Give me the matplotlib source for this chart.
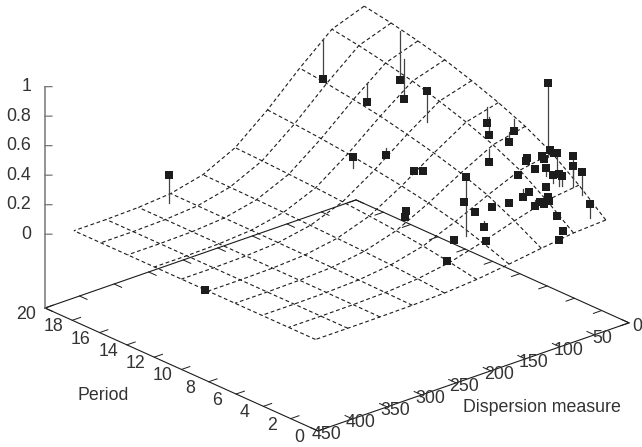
#!/usr/bin/env python3
import numpy as np
import matplotlib
matplotlib.use("Agg")
import matplotlib.pyplot as plt
from mpl_toolkits.mplot3d import proj3d

plt.rcParams['font.family'] = ['Liberation Sans', 'DejaVu Sans']

#### data ####

# fitted surface: rows are period_grid, columns are dm_grid
period_grid = [1.7, 3.67, 5.63, 7.6, 9.57, 11.53, 13.5, 15.47, 17.43, 19.4]
dm_grid = [0, 46.7, 93.3, 140, 186.7, 233.3, 280, 326.7, 373.3, 420]
surface = [
    [.126, .114, .086, .055, .027, .011, .004, .001, 0, 0],
    [.280, .253, .190, .121, .061, .025, .008, .002, 0, 0],
    [.415, .376, .282, .180, .090, .038, .012, .003, 0, 0],
    [.515, .466, .350, .223, .112, .047, .015, .004, 0, 0],
    [.594, .538, .404, .257, .129, .054, .017, .004, 0, 0],
    [.661, .598, .449, .286, .144, .060, .019, .005, 0, 0],
    [.720, .652, .490, .312, .157, .066, .021, .005, 0, 0],
    [.766, .693, .521, .332, .167, .070, .022, .005, 0, 0],
    [.806, .729, .548, .349, .176, .073, .023, .006, 0, 0],
    [.838, .758, .570, .363, .183, .076, .024, .006, 0, 0],
]

# measured points and the surface value under each one
period_pts = [18.6, 9.8, 19.4, 15.5, 16.6, 15.0, 11.2, 12.6, 11.9, 9.7, 9.3, 8.2, 7.9, 4.5,
              6.2, 5.3, 5.0, 4.8, 3.9, 4.8, 4.6, 3.8, 9.7, 9.1, 8.3, 7.8, 7.6, 5.6,
              5.8, 5.8, 5.6, 6.1, 5.9, 5.5, 4.8, 4.1, 3.7, 3.2, 5.3, 4.8, 5.5, 4.3,
              4.1, 4.0, 4.3, 4.8, 4.5, 3.8, 4.0, 3.9, 3.6, 3.6, 2.8, 2.0, 1.7, 2.1]
dm_pts = [298, 420, 60, 73, 3, 30, 71, 150, 117, 120, 114, 161, 168, 147,
          116, 118, 100, 79, 187, 159, 119, 132, 14, 23, 3, 20, 53, 6,
          0, 11, 13, 27, 32, 0, 10, 0, 8, 5, 31, 26, 52, 25,
          21, 18, 35, 58, 56, 42, 57, 52, 52, 45, 49, 56, 68, 15]
z_obs = [0.21, 0.0, 0.44, 0.47, 0.46, 0.44, 0.72, 0.34, 0.33, 0.32, 0.33, 0.18, 0.16, 0.54,
         0.25, 0.22, 0.24, 0.24, 0.06, 0.12, 0.15, 0.11, 0.47, 0.43, 0.46, 0.43, 0.36, 0.9,
         0.43, 0.41, 0.4, 0.41, 0.4, 0.42, 0.47, 0.46, 0.42, 0.4, 0.37, 0.39, 0.36, 0.36,
         0.37, 0.36, 0.3, 0.25, 0.29, 0.26, 0.22, 0.24, 0.24, 0.25, 0.19, 0.13, 0.1, 0.24]
z_fit = [0.02, 0.0, 0.71, 0.6, 0.79, 0.71, 0.51, 0.27, 0.38, 0.32, 0.33, 0.18, 0.16, 0.14,
         0.25, 0.22, 0.24, 0.26, 0.06, 0.12, 0.19, 0.14, 0.58, 0.55, 0.54, 0.5, 0.45, 0.4,
         0.43, 0.41, 0.4, 0.41, 0.4, 0.42, 0.35, 0.31, 0.28, 0.24, 0.37, 0.34, 0.36, 0.31,
         0.29, 0.29, 0.3, 0.3, 0.29, 0.26, 0.26, 0.26, 0.24, 0.25, 0.19, 0.13, 0.1, 0.15]

period_ticks = [0, 2, 4, 6, 8, 10, 12, 14, 16, 18, 20]
dm_ticks = [0, 50, 100, 150, 200, 250, 300, 350, 400, 450]
z_ticks = [0, 0.2, 0.4, 0.6, 0.8, 1]
z_tick_labels = ['0', '0.2', '0.4', '0.6', '0.8', '1']

#### figure ####

fig = plt.figure(figsize=(6.42, 4.47), dpi=100)
ax = fig.add_axes([0, 0, 1, 1], projection='3d', proj_type='ortho', computed_zorder=False)
ax.set_xlim(0, 20)
ax.set_ylim(0, 450)
ax.set_zlim(-0.5, 1)
ax.set_box_aspect((413.6, 414, 241))
ax.view_init(elev=23.3, azim=138.7)
ax.set_axis_off()

# put the left and right base corners where they are in the picture
M = ax.get_proj()
uL, vL, _ = proj3d.proj_transform(20, 450, -0.5, M)
uR, vR, _ = proj3d.proj_transform(0, 0, -0.5, M)
k = np.hypot(629 - 45, 323 - 308) / np.hypot(uR - uL, vR - vL)
x0, x1 = ax.viewLim.intervalx
y0, y1 = ax.viewLim.intervaly
side = k * (x1 - x0)
left = 45 - k * (uL - x0)
bottom = (447 - 308) - k * (vL - y0)
ax.set_position([left / 642, bottom / 447, side / 642, side / 447])

ink = '#1c1c1c'
text_ink = '#333333'
font_size = 12.8


# tick label at a 3d position, kept as plain 2d text
def label(x, y, z, s, ha='center'):
    u, v, _ = proj3d.proj_transform(x, y, z, M)
    ax.text2D(u, v, s, transform=ax.transData, ha=ha, va='center', fontsize=font_size, color=text_ink)


# base frame
ax.plot([20, 0, 0, 20, 20], [450, 450, 0, 0, 450], [-0.5] * 5, color=ink, lw=0.8, zorder=2)

# ticks on both edges, pointing inward
for p in period_ticks:
    ax.plot([p, p], [450, 438], [-0.5, -0.5], color=ink, lw=0.7, zorder=2)
    ax.plot([p, p], [0, 12], [-0.5, -0.5], color=ink, lw=0.7, zorder=2)
    label(p, 477, -0.5, str(p))
for d in dm_ticks:
    ax.plot([0, 0.55], [d, d], [-0.5, -0.5], color=ink, lw=0.7, zorder=2)
    ax.plot([20, 19.45], [d, d], [-0.5, -0.5], color=ink, lw=0.7, zorder=2)
    label(-0.6, d, -0.5, str(d))

# z axis
ax.plot([20, 20], [450, 450], [-0.5, 1], color='#777777', lw=1.1, zorder=2)
for z, lab in zip(z_ticks, z_tick_labels):
    ax.plot([20, 19.78], [450, 444.3], [z, z], color='#777777', lw=0.9, zorder=2)
    label(20.445, 461.4, z, lab, ha='right')

# surface mesh
dash = (0, (3.4, 2.4))
zz = np.array(surface)
for i in range(len(period_grid)):
    ax.plot([period_grid[i]] * len(dm_grid), dm_grid, zz[i, :], color=ink, lw=0.8, ls=dash, zorder=3)
for j in range(len(dm_grid)):
    ax.plot(period_grid, [dm_grid[j]] * len(period_grid), zz[:, j], color=ink, lw=0.8, ls=dash, zorder=3)

# impulses from each point to the surface, then the points
for p, d, a, b in zip(period_pts, dm_pts, z_obs, z_fit):
    ax.plot([p, p], [d, d], [a, b], color='#444444', lw=0.9, zorder=4)
ax.plot(period_pts, dm_pts, z_obs, ls='none', marker='s', ms=5.4, color=ink, mec=ink, mew=0, zorder=5)

# axis names sit in figure coordinates
fig.text(103 / 642, 1 - 395 / 447, 'Period', ha='center', va='center', fontsize=font_size, color=text_ink)
fig.text(542 / 642, 1 - 407 / 447, 'Dispersion measure', ha='center', va='center', fontsize=font_size, color=text_ink)

fig.savefig('out.png', dpi=100)
